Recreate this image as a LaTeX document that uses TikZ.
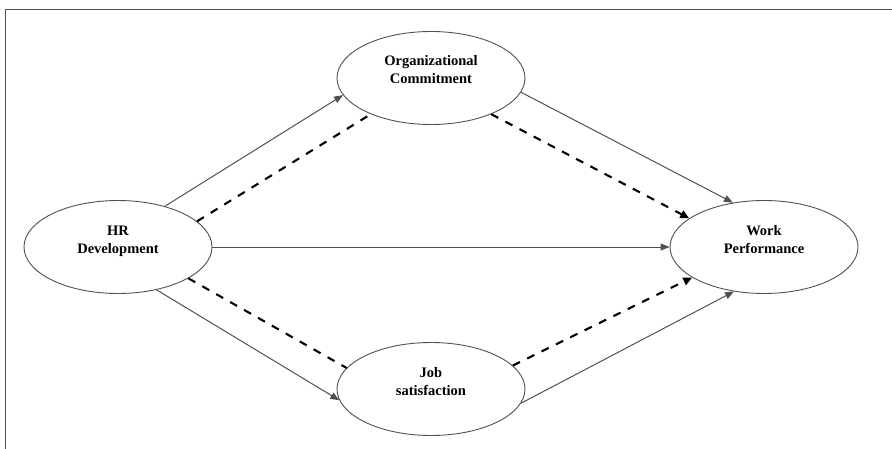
\documentclass[tikz,border=0pt]{standalone}
\usepackage{fontspec}
\setmainfont{Liberation Serif}
\usetikzlibrary{arrows.meta,shapes.geometric}

\definecolor{edgegray}{HTML}{505050}

\tikzstyle{construct} = [ellipse, minimum width=188pt, minimum height=93pt, inner sep=0pt, draw=edgegray, line width=0.9pt]
\tikzstyle{caption} = [align=center, font=\bfseries\fontsize{14.5}{18}\selectfont, inner sep=0pt]
\tikzstyle{arrow} = [draw=edgegray, line width=1pt, -{Triangle[length=9pt,width=7pt]}]
\tikzstyle{mediate} = [black, line width=2.1pt, dash pattern=on 8pt off 8pt]
\tikzstyle{mediatearrow} = [mediate, -{Triangle[length=9pt,width=8pt]}]

\begin{document}
\begin{tikzpicture}[x=1pt,y=1pt]

		\useasboundingbox (0,0) rectangle (892,448);
		\draw [edgegray, line width=1pt] (5,-20) -- (5,438) -- (910,438);

		\node (hrd) [construct] at (118,201) {};
		\node (orgc) [construct] at (431,370) {};
		\node (work) [construct] at (764,201) {};
		\node (jobs) [construct] at (431,59) {};

		\node (hrdtext) [caption] at ([yshift=6pt]hrd.center) {HR\\Development};
		\node (orgctext) [caption] at ([yshift=8pt]orgc.center) {Organizational\\Commitment};
		\node (worktext) [caption] at ([yshift=7pt]work.center) {Work\\Performance};
		\node (jobstext) [caption] at ([yshift=7pt]jobs.center) {Job\\satisfaction};

		\draw [arrow] (hrd.41) -- (orgc.191);
		\draw [arrow] (hrd.east) -- (work.west);
		\draw [arrow] (hrd.-48) -- (jobs.187);
		\draw [arrow] (orgc.-9) -- (work.125);
		\draw [arrow] (jobs.-9) -- (work.236);

		\draw [mediate] (hrd.18) -- (orgc.211);
		\draw [mediate] (hrd.-24) -- (jobs.166);
		\draw [mediatearrow] (orgc.-31) -- (work.159);
		\draw [mediatearrow] (jobs.16) -- (work.203);
		\end{tikzpicture}
\end{document}
